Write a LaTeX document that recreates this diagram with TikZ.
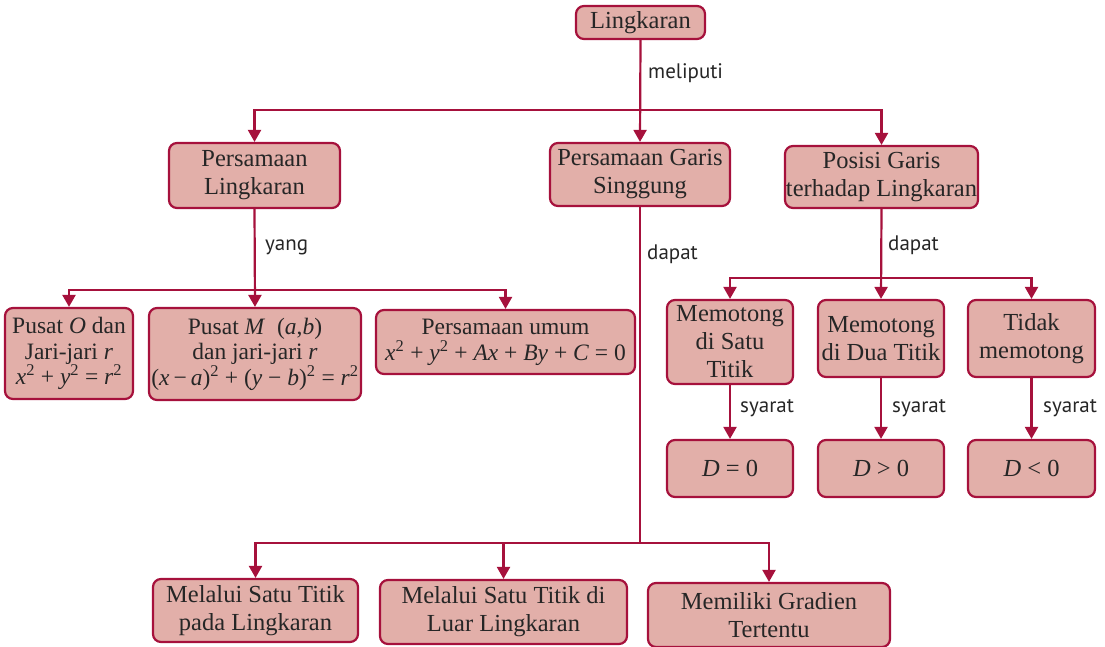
\documentclass[tikz,border=0pt]{standalone}
\usepackage{fontspec}
\setmainfont{Liberation Serif}
\newfontfamily\labfont{PT Sans}
\usetikzlibrary{arrows.meta}
\definecolor{boxfill}{RGB}{226,175,169}
\definecolor{boxline}{RGB}{166,17,60}
\newcommand{\mv}[1]{\textit{#1}}
\newcommand{\sq}{\textsuperscript{2}}
\begin{document}
\begin{tikzpicture}[x=1pt,y=-1pt,
  box/.style={draw=boxline,fill=boxfill,line width=2.2pt,rounded corners=8pt,
    align=center,inner sep=0pt,font=\fontsize{24.5}{28}\selectfont,text=black!85},
  lab/.style={anchor=west,inner sep=0pt,font=\labfont\fontsize{21}{24}\selectfont,text=black!85},
  con/.style={draw=boxline,line width=2.2pt},
  arr/.style={con,-{Triangle[width=13pt,length=12pt]}}]
\useasboundingbox (0,0) rectangle (1105,647);
% nodes
\node[box,minimum width=129pt,minimum height=33pt] (L) at (640.5,22.5) {Lingkaran};
\node[box,minimum width=171pt,minimum height=65pt] (PL) at (254.5,175.5) {Persamaan\\Lingkaran};
\node[box,minimum width=180pt,minimum height=63pt] (PG) at (640,174.5) {Persamaan Garis\\Singgung};
\node[box,minimum width=193pt,minimum height=62pt] (PP) at (881.5,177) {Posisi Garis\\terhadap Lingkaran};
\node[box,minimum width=128pt,minimum height=91pt,font=\fontsize{23.5}{25.5}\selectfont] (PO) at (69,353.5)
  {Pusat \mv{O} dan\\Jari-jari \mv{r}\\\mv{x}\sq{} + \mv{y}\sq{} = \mv{r}\sq};
\node[box,minimum width=212pt,minimum height=92pt,font=\fontsize{23.5}{25.5}\selectfont] (PM) at (255,354)
  {Pusat \mv{M}\ \ (\mv{a},\mv{b})\\dan jari-jari \mv{r}\\(\mv{x}\,−\,\mv{a})\sq{} + (\mv{y} − \mv{b})\sq{} = \mv{r}\sq};
\node[box,minimum width=259pt,minimum height=64pt,font=\fontsize{23.5}{26}\selectfont] (PU) at (505.5,342)
  {Persamaan umum\\\mv{x}\sq{} + \mv{y}\sq{} + \mv{Ax} + \mv{By} + \mv{C} = 0};
\node[box,minimum width=126pt,minimum height=84pt] (M1) at (730,342) {Memotong\\di Satu\\Titik};
\node[box,minimum width=126pt,minimum height=77pt] (M2) at (881,338.5) {Memotong\\di Dua Titik};
\node[box,minimum width=127pt,minimum height=77pt] (M3) at (1031.5,338.5) {Tidak\\memotong};
\node[box,minimum width=126pt,minimum height=57pt] (D1) at (730,468.5) {\mv{D} = 0};
\node[box,minimum width=126pt,minimum height=57pt] (D2) at (881,468.5) {\mv{D} > 0};
\node[box,minimum width=127pt,minimum height=57pt] (D3) at (1031.5,468.5) {\mv{D} < 0};
\node[box,minimum width=205pt,minimum height=63pt] (B1) at (255.5,610.5) {Melalui Satu Titik\\pada Lingkaran};
\node[box,minimum width=247pt,minimum height=64pt] (B2) at (503.5,612) {Melalui Satu Titik di\\Luar Lingkaran};
\node[box,minimum width=242pt,minimum height=64pt] (B3) at (769,615) {Memiliki Gradien\\Tertentu};
% junctions
\coordinate (j1) at (640,110);
\coordinate (j2) at (255,290);
\coordinate (j3) at (640,543);
\coordinate (j4) at (881,278);
% connectors
\draw[arr] (L.south) -- (PG.north);
\draw[arr] (j1) -| (PL.north);
\draw[arr] (j1) -| (PP.north);
\draw[arr] (PL.south) -- (PM.north);
\draw[arr] (j2) -| (PO.north);
\draw[arr] (j2) -| (PU.north);
\draw[con] (PG.south) -- (j3);
\draw[arr] (j3) -| (B1.north);
\draw[arr] (j3) -| (B2.north);
\draw[arr] (j3) -| (B3.north);
\draw[arr] (PP.south) -- (M2.north);
\draw[arr] (j4) -| (M1.north);
\draw[arr] (j4) -| (M3.north);
\draw[arr] (M1.south) -- (D1.north);
\draw[arr] (M2.south) -- (D2.north);
\draw[arr] (M3.south) -- (D3.north);
% labels
\node[lab] (t1) at (648,73) {meliputi};
\node[lab] (t2) at (265,247) {yang};
\node[lab] (t3) at (647,254) {dapat};
\node[lab] (t4) at (888,245) {dapat};
\node[lab] (t5) at (740,408) {syarat};
\node[lab] (t6) at (892,408) {syarat};
\node[lab] (t7) at (1043,408) {syarat};
\end{tikzpicture}
\end{document}
